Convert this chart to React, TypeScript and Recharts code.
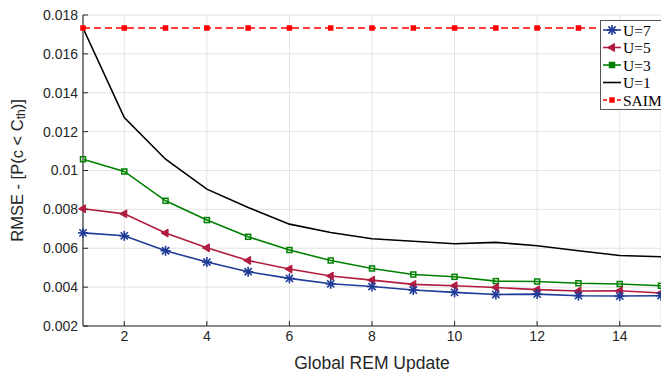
import React from "react";
import {
  LineChart,
  Line,
  XAxis,
  YAxis,
  CartesianGrid,
} from "recharts";

const updates = [1, 2, 3, 4, 5, 6, 7, 8, 9, 10, 11, 12, 13, 14, 15];
const u7 = [0.00679, 0.00664, 0.00587, 0.00529, 0.00479, 0.00445, 0.00417, 0.00403, 0.00385, 0.00373, 0.00362, 0.00364, 0.00356, 0.00354, 0.00356];
const u5 = [0.00803, 0.00777, 0.00678, 0.00602, 0.00537, 0.00493, 0.00457, 0.00436, 0.00414, 0.00407, 0.00398, 0.00387, 0.0038, 0.00381, 0.0037];
const u3 = [0.01058, 0.00995, 0.00844, 0.00745, 0.00659, 0.00591, 0.00537, 0.00496, 0.00465, 0.00453, 0.00431, 0.00429, 0.0042, 0.00416, 0.00407];
const u1 = [0.01733, 0.01272, 0.01058, 0.00904, 0.0081, 0.00724, 0.00681, 0.00649, 0.00636, 0.00623, 0.0063, 0.00613, 0.00587, 0.00563, 0.00556];
const saim = [0.01733, 0.01733, 0.01733, 0.01733, 0.01733, 0.01733, 0.01733, 0.01733, 0.01733, 0.01733, 0.01733, 0.01733, 0.01733, 0.01733, 0.01733];

const xTicks = [2, 4, 6, 8, 10, 12, 14];
const yTicks = [0.002, 0.004, 0.006, 0.008, 0.01, 0.012, 0.014, 0.016, 0.018];

const BLUE = "#1f3a98";
const CRIMSON = "#b01c40";
const GREEN = "#008000";
const RED = "#ff0000";
const AXIS = "#262626";
const SANS = "'Liberation Sans', Arial, sans-serif";

const data = updates.map((u, i) => ({
  u,
  u7: u7[i],
  u5: u5[i],
  u3: u3[i],
  u1: u1[i],
  saim: saim[i],
}));

// marker shapes (matlab-ish)
function Star({ cx, cy, color = BLUE }: any) {
  if (cx == null || cy == null) return null;
  const r = 5;
  const d = r * 0.72;
  return (
    <g stroke={color} strokeWidth={1.6}>
      <line x1={cx - r} y1={cy} x2={cx + r} y2={cy} />
      <line x1={cx} y1={cy - r} x2={cx} y2={cy + r} />
      <line x1={cx - d} y1={cy - d} x2={cx + d} y2={cy + d} />
      <line x1={cx - d} y1={cy + d} x2={cx + d} y2={cy - d} />
    </g>
  );
}

function LeftTri({ cx, cy, color = CRIMSON }: any) {
  if (cx == null || cy == null) return null;
  return (
    <polygon
      points={`${cx - 4.5},${cy} ${cx + 2.5},${cy - 4} ${cx + 2.5},${cy + 4}`}
      fill={color}
      stroke={color}
    />
  );
}

function Square({ cx, cy, color = GREEN, size = 6, filled = false }: any) {
  if (cx == null || cy == null) return null;
  return (
    <rect
      x={cx - size / 2}
      y={cy - size / 2}
      width={size}
      height={size}
      fill={filled ? color : "none"}
      stroke={color}
      strokeWidth={1.5}
    />
  );
}

function YLabel({ viewBox }: any) {
  const x = viewBox.x + 17;
  const y = viewBox.y + viewBox.height / 2;
  return (
    <text
      x={x}
      y={y}
      transform={`rotate(-90, ${x}, ${y})`}
      textAnchor="middle"
      dominantBaseline="central"
      fontSize={16.5}
      fill={AXIS}
      fontFamily={SANS}
    >
      RMSE - [P(c &lt; C
      <tspan fontSize={12} dy={4}>th</tspan>
      <tspan dy={-4}>)]</tspan>
    </text>
  );
}

const legendItems = [
  { name: "U=7", color: BLUE, marker: "star", dash: undefined },
  { name: "U=5", color: CRIMSON, marker: "tri", dash: undefined },
  { name: "U=3", color: GREEN, marker: "sq", dash: undefined },
  { name: "U=1", color: "#000000", marker: "none", dash: undefined },
  { name: "SAIM", color: RED, marker: "sqf", dash: "4 3" },
];

function LegendBox() {
  return (
    <div
      style={{
        position: "absolute",
        left: 600,
        top: 20,
        width: 75,
        height: 90,
        border: "1px solid #555",
        background: "#fff",
        boxSizing: "border-box",
      }}
    >
      <svg width={75} height={90} style={{ position: "absolute", left: 0, top: 0 }}>
        {legendItems.map((it, i) => {
          const y = 9 + i * 17.5;
          return (
            <g key={it.name}>
              <line
                x1={2}
                x2={20}
                y1={y}
                y2={y}
                stroke={it.color}
                strokeWidth={1.6}
                strokeDasharray={it.dash}
              />
              {it.marker === "star" && <Star cx={11} cy={y} />}
              {it.marker === "tri" && <LeftTri cx={11} cy={y} />}
              {it.marker === "sq" && <Square cx={11} cy={y} size={5} filled />}
              {it.marker === "sqf" && <Square cx={11} cy={y} color={RED} size={4} filled />}
              <text
                x={22}
                y={y}
                dominantBaseline="central"
                fontSize={15.5}
                fill="#000"
                fontFamily="'Liberation Serif', 'DejaVu Serif', serif"
              >
                {it.name}
              </text>
            </g>
          );
        })}
      </svg>
    </div>
  );
}

const tickFont = { fill: AXIS, fontSize: 14, fontFamily: SANS };

export default function App() {
  return (
    <div
      style={{
        position: "absolute",
        left: 0,
        top: 0,
        width: 661,
        height: 372,
        overflow: "hidden",
        background: "#fff",
      }}
    >
      <LineChart
        width={661}
        height={372}
        data={data}
        margin={{ top: 15, right: 0, bottom: 0, left: 0 }}
      >
        <CartesianGrid stroke="#e3e3e3" />
        <XAxis
          dataKey="u"
          type="number"
          domain={[1, 15]}
          ticks={xTicks}
          height={46}
          tick={tickFont}
          tickSize={-5}
          tickMargin={10}
          tickLine={{ stroke: AXIS }}
          axisLine={{ stroke: AXIS }}
          label={{
            value: "Global REM Update",
            position: "insideBottom",
            offset: 3,
            style: { fill: AXIS, fontSize: 17.5, fontFamily: SANS },
          }}
        />
        <XAxis
          xAxisId="top"
          dataKey="u"
          type="number"
          orientation="top"
          domain={[1, 15]}
          ticks={xTicks}
          height={0}
          tickSize={-5}
          tickFormatter={() => ""}
          tickLine={{ stroke: AXIS }}
          axisLine={{ stroke: AXIS }}
        />
        <YAxis
          type="number"
          domain={[0.002, 0.018]}
          ticks={yTicks}
          width={83}
          tick={tickFont}
          tickSize={-5}
          tickMargin={10}
          tickLine={{ stroke: AXIS }}
          axisLine={{ stroke: "#808080", strokeWidth: 2 }}
          tickFormatter={(v: number) => String(+v.toFixed(3))}
          label={<YLabel />}
          allowDataOverflow
        />
        <YAxis
          yAxisId="right"
          orientation="right"
          type="number"
          domain={[0.002, 0.018]}
          ticks={yTicks}
          width={0}
          tickSize={-5}
          tickFormatter={() => ""}
          tickLine={{ stroke: AXIS }}
          axisLine={false}
        />
        <Line
          dataKey="saim"
          stroke={RED}
          strokeWidth={1.6}
          strokeDasharray="7 4"
          isAnimationActive={false}
          dot={(p: any) => <Square key={p.index} cx={p.cx} cy={p.cy} color={RED} size={4} filled />}
        />
        <Line
          dataKey="u1"
          stroke="#000000"
          strokeWidth={1.6}
          isAnimationActive={false}
          dot={false}
        />
        <Line
          dataKey="u3"
          stroke={GREEN}
          strokeWidth={1.6}
          isAnimationActive={false}
          dot={(p: any) => <Square key={p.index} cx={p.cx} cy={p.cy} size={5} />}
        />
        <Line
          dataKey="u5"
          stroke={CRIMSON}
          strokeWidth={1.6}
          isAnimationActive={false}
          dot={(p: any) => <LeftTri key={p.index} cx={p.cx} cy={p.cy} />}
        />
        <Line
          dataKey="u7"
          stroke={BLUE}
          strokeWidth={1.6}
          isAnimationActive={false}
          dot={(p: any) => <Star key={p.index} cx={p.cx} cy={p.cy} />}
        />
      </LineChart>
      <LegendBox />
    </div>
  );
}
